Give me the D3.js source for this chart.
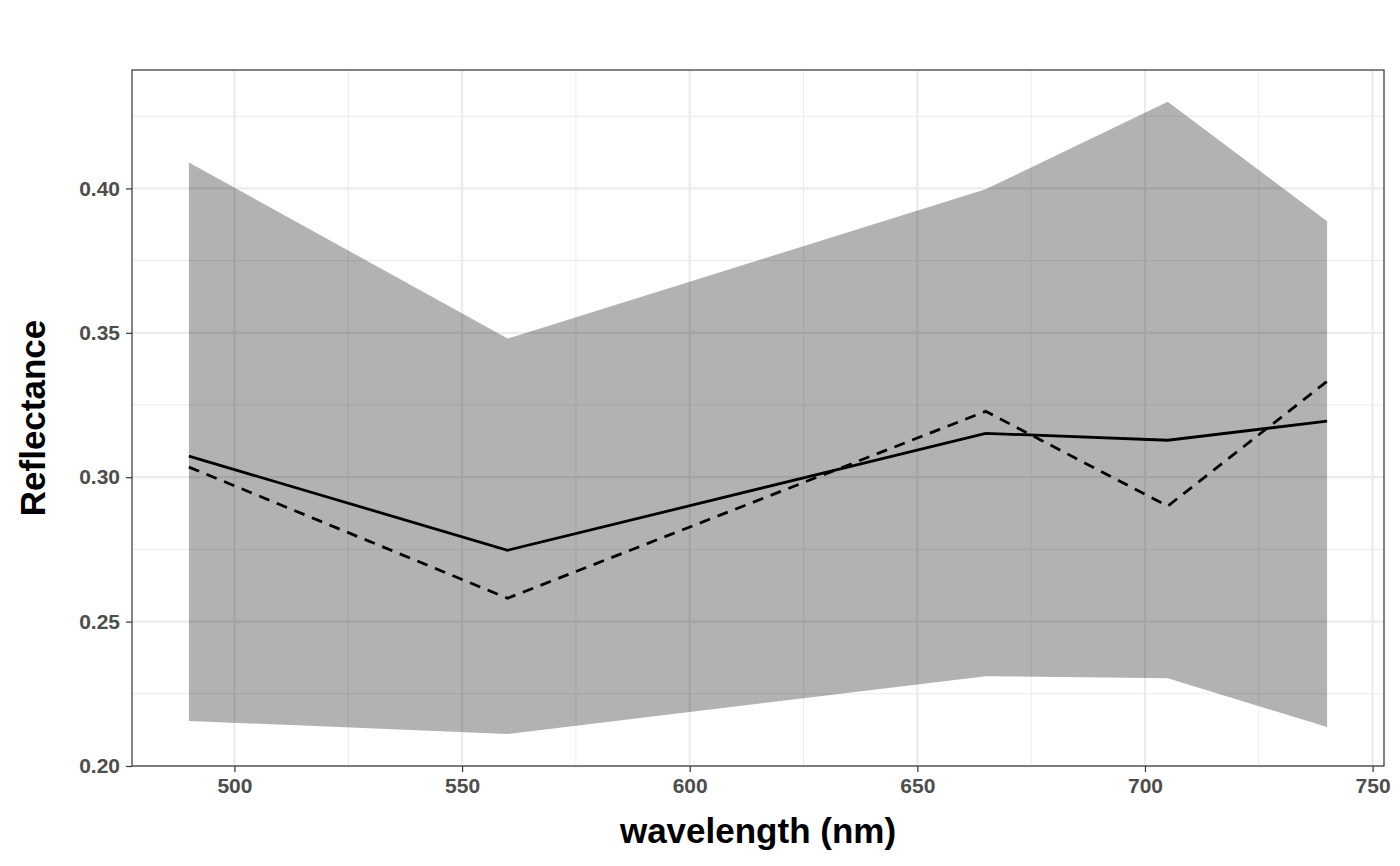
<!DOCTYPE html>
<html><head><meta charset="utf-8">
<script src="https://cdn.jsdelivr.net/npm/d3@7"></script>
<style>body{margin:0;background:#fff}</style>
</head><body>
<div id="chart"></div>
<script>
// --- data ---
const wavelengths = [490, 560, 665, 705, 740];
const upper  = [0.409, 0.348, 0.3997, 0.430, 0.3886];
const lower  = [0.2156, 0.2111, 0.2311, 0.2304, 0.2135];
const solid  = [0.3073, 0.2747, 0.3152, 0.3128, 0.3194];
const dashed = [0.3035, 0.2581, 0.3228, 0.290, 0.3332];
const xTicks = [500, 550, 600, 650, 700, 750];
const yTicks = [0.20, 0.25, 0.30, 0.35, 0.40];

const W = 1400, H = 866;
const m = {left: 132, right: 16, top: 70, bottom: 100};

const svg = d3.select("#chart").append("svg")
    .attr("width", W).attr("height", H)
    .style("font-family", "'Liberation Sans', Arial, sans-serif");

const x = d3.scaleLinear().domain([477.5, 752.5]).range([m.left, W - m.right]);
const y = d3.scaleLinear().domain([0.2, 0.441]).range([H - m.bottom, m.top]);

// --- grid ---
const grid = svg.append("g");
const xMinor = [475, 525, 575, 625, 675, 725];
const yMinor = [0.225, 0.275, 0.325, 0.375, 0.425];
grid.selectAll(".xm").data(xMinor.filter(v => v > 477.5)).join("line")
    .attr("x1", d => x(d)).attr("x2", d => x(d)).attr("y1", m.top).attr("y2", H - m.bottom)
    .attr("stroke", "#ebebeb").attr("stroke-width", 1);
grid.selectAll(".ym").data(yMinor).join("line")
    .attr("y1", d => y(d)).attr("y2", d => y(d)).attr("x1", m.left).attr("x2", W - m.right)
    .attr("stroke", "#ebebeb").attr("stroke-width", 1);
grid.selectAll(".xM").data(xTicks).join("line")
    .attr("x1", d => x(d)).attr("x2", d => x(d)).attr("y1", m.top).attr("y2", H - m.bottom)
    .attr("stroke", "#ebebeb").attr("stroke-width", 2.2);
grid.selectAll(".yM").data(yTicks).join("line")
    .attr("y1", d => y(d)).attr("y2", d => y(d)).attr("x1", m.left).attr("x2", W - m.right)
    .attr("stroke", "#ebebeb").attr("stroke-width", 2.2);

// --- ribbon ---
const rows = wavelengths.map((w, i) => ({w, lo: lower[i], hi: upper[i], s: solid[i], d: dashed[i]}));
svg.append("path").datum(rows)
    .attr("d", d3.area().x(d => x(d.w)).y0(d => y(d.lo)).y1(d => y(d.hi)))
    .attr("fill", "#000").attr("fill-opacity", 0.3);

// --- lines ---
svg.append("path").datum(rows)
    .attr("d", d3.line().x(d => x(d.w)).y(d => y(d.s)))
    .attr("fill", "none").attr("stroke", "#000").attr("stroke-width", 2.8);
svg.append("path").datum(rows)
    .attr("d", d3.line().x(d => x(d.w)).y(d => y(d.d)))
    .attr("fill", "none").attr("stroke", "#000").attr("stroke-width", 2.8)
    .attr("stroke-dasharray", "11,8");

// --- panel border ---
svg.append("rect").attr("x", m.left).attr("y", m.top)
    .attr("width", W - m.left - m.right).attr("height", H - m.top - m.bottom)
    .attr("fill", "none").attr("stroke", "#333").attr("stroke-width", 1.2);

// --- axes ---
const xAxis = svg.append("g").attr("transform", `translate(0,${H - m.bottom})`)
    .call(d3.axisBottom(x).tickValues(xTicks).tickSize(6).tickPadding(6));
const yAxis = svg.append("g").attr("transform", `translate(${m.left},0)`)
    .call(d3.axisLeft(y).tickValues(yTicks).tickFormat(d3.format(".2f")).tickSize(6).tickPadding(6));
[xAxis, yAxis].forEach(a => {
    a.select(".domain").remove();
    a.selectAll(".tick line").attr("stroke", "#333").attr("stroke-width", 1.2);
    a.selectAll(".tick text").attr("fill", "#4d4d4d")
        .style("font-size", "21px").style("font-weight", "bold")
        .style("font-family", "'Liberation Sans', Arial, sans-serif");
});

svg.append("text").attr("x", (m.left + W - m.right) / 2).attr("y", 843)
    .attr("text-anchor", "middle").style("font-size", "35px").style("font-weight", "bold")
    .text("wavelength (nm)");
svg.append("text").attr("transform", `translate(45,${(m.top + H - m.bottom) / 2}) rotate(-90)`)
    .attr("text-anchor", "middle").style("font-size", "35px").style("font-weight", "bold")
    .text("Reflectance");
</script>
</body></html>
